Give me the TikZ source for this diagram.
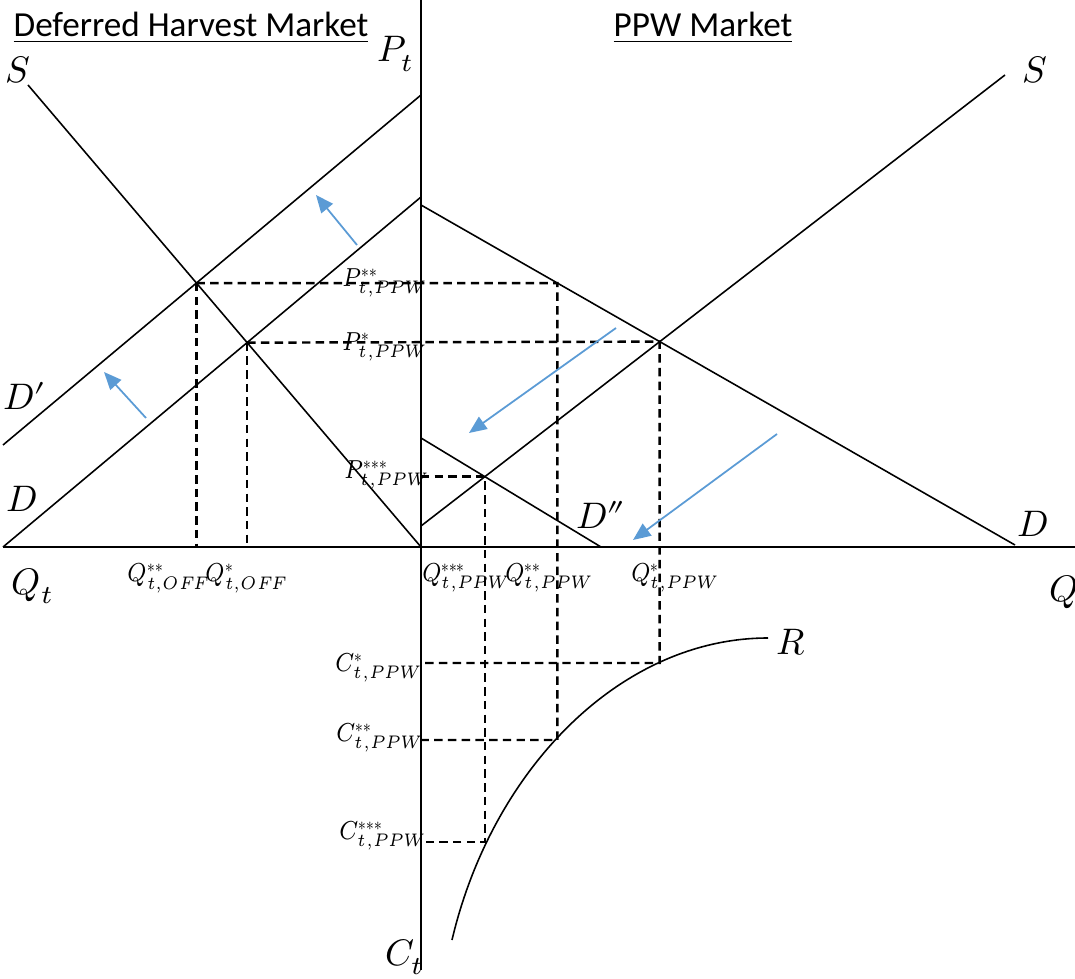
\documentclass[tikz,border=0pt]{standalone}
\usepackage{fontspec}
\usepackage{unicode-math}
\setmainfont{Carlito}
\setmathfont{Latin Modern Math}
\usepackage{tikz}
\usetikzlibrary{arrows.meta, positioning, calc}
\definecolor{shiftblue}{RGB}{91,155,213}
\newcommand{\lvl}[1]{\scalebox{0.84}[1]{$#1$}}

\begin{document}
\begin{tikzpicture}[x=0.01cm, y=-0.01cm, line width=0.45pt,
  every node/.style={inner sep=0pt},
  lbl/.style={font=\fontsize{10.5}{12}\selectfont},
  sublbl/.style={font=\fontsize{7.4}{8.5}\selectfont},
  guide/.style={dashed, line width=0.7pt, dash pattern=on 2.4pt off 1.5pt},
  shiftarrow/.style={shiftblue, line width=0.5pt, -{Triangle[length=5pt, width=4.2pt]}}]
  \useasboundingbox (0,0) rectangle (1075,979);

  % Titles
  \node[font=\fontsize{10}{12}\selectfont] (title1) at (191,28) {\underline{Deferred Harvest Market}};
  \node[font=\fontsize{10}{12}\selectfont] (title2) at (703,28) {\underline{PPW Market}};

  % Axes
  \coordinate (O) at (421,547);
  \coordinate (axT) at (421,0);
  \coordinate (axB) at (421,970);
  \coordinate (axL) at (3,547);
  \coordinate (axR) at (1075,547);
  \draw (axT) -- (axB);
  \draw (axL) -- (axR);

  % Deferred harvest market
  \coordinate (lS0) at (28,85);
  \coordinate (lD0) at (3,547);
  \coordinate (lD1) at (421,197);
  \coordinate (lDp0) at (3,445);
  \coordinate (lDp1) at (421,95);
  \draw (lS0) -- (O);
  \draw (lD0) -- (lD1);
  \draw (lDp0) -- (lDp1);

  % PPW market
  \coordinate (rD0) at (421,205);
  \coordinate (rD1) at (1015,545);
  \coordinate (rS0) at (421,526);
  \coordinate (rS1) at (1005,75);
  \coordinate (rDpp0) at (421,438);
  \coordinate (rDpp1) at (601,547);
  \draw (rD0) -- (rD1);
  \draw (rS0) -- (rS1);
  \draw (rDpp0) -- (rDpp1);

  % Equilibria
  \coordinate (eL1) at (intersection of lS0--O and lD0--lD1);
  \coordinate (eL2) at (intersection of lS0--O and lDp0--lDp1);
  \coordinate (eR1) at (intersection of rD0--rD1 and rS0--rS1);
  \coordinate (eL2r) at ($(eL2)+(100,0)$);
  \coordinate (eR2) at (intersection of eL2--eL2r and rD0--rD1);
  \coordinate (eR3) at (intersection of rDpp0--rDpp1 and rS0--rS1);

  % Cost curve
  \coordinate (c1) at (eR1 |- 0,663);
  \coordinate (c2) at (eR2 |- 0,740);
  \coordinate (c3) at (eR3 |- 0,842);
  \coordinate (rR0) at (452,940);
  \coordinate (rR1) at (768,638);
  \draw (rR0) .. controls (492,770) and (620,638) .. (rR1);

  % Guides
  \draw[guide] (eL2) -- (eR2) -- (c2) -- (O |- c2);
  \draw[guide] (eL1) -- (eR1) -- (c1) -- (O |- c1);
  \draw[guide] (O |- eR3) -- (eR3) -- (c3) -- (O |- c3);
  \draw[guide] (eL2) -- (eL2 |- O);
  \draw[guide] (eL1) -- (eL1 |- O);

  % Shifts
  \coordinate (a1s) at (357,245); \coordinate (a1e) at (316,195);
  \coordinate (a2s) at (146,418); \coordinate (a2e) at (104,372);
  \coordinate (a3s) at (616,328); \coordinate (a3e) at (469,433);
  \coordinate (a4s) at (777,434); \coordinate (a4e) at (633,540);
  \draw[shiftarrow] (a1s) -- (a1e);
  \draw[shiftarrow] (a2s) -- (a2e);
  \draw[shiftarrow] (a3s) -- (a3e);
  \draw[shiftarrow] (a4s) -- (a4e);

  % Curve labels
  \node[lbl] (labPt) at (396,54) {$P_t$};
  \node[lbl] (labQt) at (33,586) {$Q_t$};
  \node[lbl] (labQ) at (1064,592) {$Q$};
  \node[lbl] (labCt) at (405,957) {$C_t$};
  \node[lbl] (labSL) at (18,70) {$S$};
  \node[lbl] (labSR) at (1035,70) {$S$};
  \node[lbl] (labDp) at (25,396) {$D'$};
  \node[lbl] (labDL) at (22,499) {$D$};
  \node[lbl] (labDR) at (1033,524) {$D$};
  \node[lbl] (labDpp) at (601,515) {$D''$};
  \node[lbl] (labR) at (791,642) {$R$};

  % Level labels
  \node[sublbl] (labP2) at (385,283) {\lvl{P^{**}_{t,PPW}}};
  \node[sublbl] (labP1) at (385,347) {\lvl{P^{*}_{t,PPW}}};
  \node[sublbl] (labP3) at (387,475) {\lvl{P^{***}_{t,PPW}}};
  \node[sublbl] (labQo2) at (169,578) {\lvl{Q^{**}_{t,OFF}}};
  \node[sublbl] (labQo1) at (247,578) {\lvl{Q^{*}_{t,OFF}}};
  \node[sublbl] (labQp3) at (466,578) {\lvl{Q^{***}_{t,PPW}}};
  \node[sublbl] (labQp2) at (549,578) {\lvl{Q^{**}_{t,PPW}}};
  \node[sublbl] (labQp1) at (675,578) {\lvl{Q^{*}_{t,PPW}}};
  \node[sublbl] (labC1) at (379,668) {\lvl{C^{*}_{t,PPW}}};
  \node[sublbl] (labC2) at (380,738) {\lvl{C^{**}_{t,PPW}}};
  \node[sublbl] (labC3) at (383,836) {\lvl{C^{***}_{t,PPW}}};
\end{tikzpicture}
\end{document}
